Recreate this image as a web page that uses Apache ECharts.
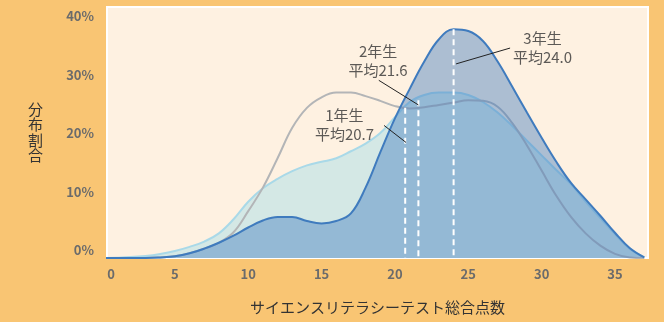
<!DOCTYPE html>
<html>
<head>
<meta charset="utf-8">
<script src="https://cdn.jsdelivr.net/npm/echarts@6/dist/echarts.min.js"></script>
<style>
html,body{margin:0;padding:0;background:#F9C573;}
#chart{width:664px;height:322px;}
</style>
</head>
<body>
<div id="chart"></div>
<script>
// ---- data ----
const scores = [0,1,2,3,4,5,6,7,8,9,10,11,12,13,14,15,16,17,18,19,20,21,22,23,24,25,26,27,28,29,30,31,32,33,34,35,36,37];
const grade1 = [0,0.05,0.15,0.35,0.7,1.2,1.9,2.8,4.2,6.6,9.6,11.9,13.5,14.8,15.8,16.4,17.0,18.2,19.5,21.3,24.0,26.6,27.8,28.2,28.2,27.8,26.6,24.8,22.5,20.0,17.5,15.0,12.6,9.6,6.8,4.1,1.6,0.1];
const grade2 = [0,0,0,0,0.1,0.3,0.8,1.6,2.6,4.4,8.0,12.0,17.0,22.2,25.6,27.4,28.2,28.2,27.6,26.8,25.9,25.5,25.7,26.1,26.5,26.9,26.8,25.8,23.0,19.2,14.9,10.6,7.0,4.2,2.1,0.7,0.1,0];
const grade3 = [0,0,0,0,0.1,0.3,0.8,1.6,2.6,3.8,5.2,6.4,7.0,7.0,6.3,5.9,6.3,7.6,12.0,18.0,23.8,28.8,33.5,37.3,39.0,38.7,37.0,33.5,29.2,24.8,20.5,16.4,12.8,10.0,7.2,4.3,1.7,0.1];
const gradeNames = ['1年生','2年生','3年生'];
const means = [20.7, 21.6, 24.0];
const meanTops = [25.6, 26.9, 39.0];
const xTickValues = [0.65,5,10,15,20,25,30,35];
const xTickLabels = ['0','5','10','15','20','25','30','35'];
const yTicks = [0,10,20,30,40];
// annotation anchors (data units)
const annoPos = [[16.56,22.65],[18.85,33.6],[30.06,35.9]];
const leaderFrom = [[19.26,22.6],[18.9,30.3],[27.85,35.8]];
const leaderTo = [[20.76,19.7],[21.6,26.1],[24.17,33.1]];

const pair = arr => scores.map((x,i)=>[x,arr[i]]);
const FONT = 'Noto Sans CJK JP';

const chart = echarts.init(document.getElementById('chart'));
const series = [
  {
    name: gradeNames[0], type:'line', data: pair(grade1), smooth:0.4, symbol:'none',
    lineStyle:{color:'#A9D9E8', width:2},
    areaStyle:{color:'#D4E8E5', opacity:1}, z:2
  },
  {
    name: gradeNames[1], type:'line', data: pair(grade2), smooth:0.4, symbol:'none',
    lineStyle:{color:'#B3B5B7', width:2}, z:3
  },
  {
    name: gradeNames[2], type:'line', data: pair(grade3), smooth:0.4, symbol:'none',
    lineStyle:{color:'#3F7BBE', width:2},
    areaStyle:{color:'rgba(60,120,190,0.6)'}, z:4
  }
];
means.forEach((m,i)=>{
  series.push({
    type:'line', data:[[m,meanTops[i]],[m,0]], symbol:'none', silent:true,
    lineStyle:{color:'#ffffff', width:2, type:[6,4]}, z:6
  });
});
series.push({
  type:'lines', coordinateSystem:'cartesian2d', z:7, silent:true,
  lineStyle:{color:'#222', width:1, opacity:1},
  data: leaderFrom.map((f,i)=>({coords:[f, leaderTo[i]]}))
});
series.push({
  type:'scatter', symbolSize:0, z:8, silent:true,
  data: annoPos.map((p,i)=>({value:p, name:gradeNames[i]})),
  label:{
    show:true, position:'inside', color:'#333', fontFamily:FONT, fontSize:15, lineHeight:19,
    formatter: p => p.name + '\n平均' + means[p.dataIndex].toFixed(1)
  }
});

chart.setOption({
  backgroundColor:'#F9C573',
  animation:false,
  textStyle:{fontFamily:FONT},
  grid:{left:107, right:16, top:7, bottom:64, show:true, backgroundColor:'#FEF1E1', borderColor:'#ffffff', borderWidth:2},
  xAxis:{
    type:'value', min:0.375, max:37.25,
    axisLine:{show:false}, axisTick:{show:false}, splitLine:{show:false},
    axisLabel:{
      customValues:xTickValues, color:'#6B6B6B', fontWeight:'bold', fontSize:13, margin:10, fontFamily:FONT,
      formatter: v => xTickLabels[xTickValues.indexOf(v)]
    },
    name:'サイエンスリテラシーテスト総合点数', nameLocation:'middle', nameGap:42,
    nameTextStyle:{color:'#333', fontSize:15, fontFamily:FONT}
  },
  yAxis:{
    type:'value', min:0, max:42.8,
    axisLine:{show:false}, axisTick:{show:false}, splitLine:{show:false},
    axisLabel:{
      customValues:yTicks, formatter:'{value}%', color:'#6B6B6B', fontWeight:'bold', fontSize:13,
      margin:13, verticalAlign:'bottom', lineHeight:15, fontFamily:FONT
    },
    name:'分\n布\n割\n合', nameLocation:'middle', nameGap:64, nameRotate:0,
    nameTextStyle:{color:'#333', fontSize:15, lineHeight:15.5, fontFamily:FONT}
  },
  series: series
});
</script>
</body>
</html>
